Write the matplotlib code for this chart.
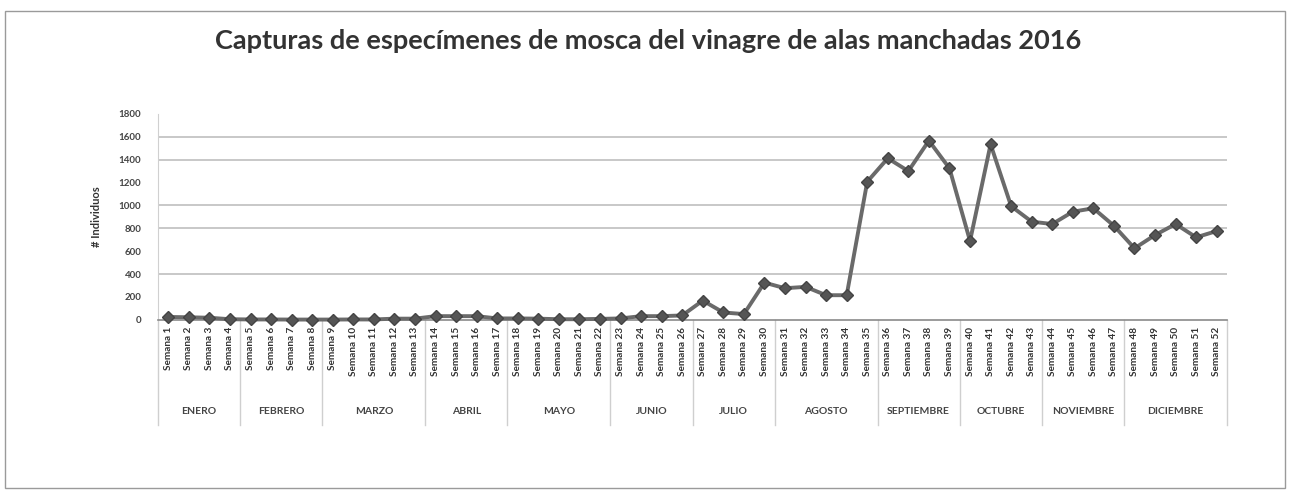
import matplotlib
matplotlib.use("Agg")
import matplotlib.pyplot as plt
import matplotlib.transforms as mtransforms
from matplotlib.patches import Rectangle

plt.rcParams['font.family'] = ['Lato', 'DejaVu Sans']

# ---- data ----
weeks = [f"Semana {i}" for i in range(1, 53)]
capturas = [25, 22, 18, 5, 3, 3, 2, 2, 2, 3, 3, 10, 10, 32, 32, 32, 12, 12, 10, 5,
            5, 8, 12, 32, 32, 38, 168, 64, 50, 325, 276, 288, 215, 215, 1207, 1412,
            1300, 1566, 1324, 689, 1534, 993, 858, 837, 945, 975, 822, 625, 741, 837,
            721, 776]
months = ["ENERO", "FEBRERO", "MARZO", "ABRIL", "MAYO", "JUNIO", "JULIO",
          "AGOSTO", "SEPTIEMBRE", "OCTUBRE", "NOVIEMBRE", "DICIEMBRE"]
weeks_per_month = [4, 4, 5, 4, 5, 4, 4, 5, 4, 4, 4, 5]
y_ticks = [0, 200, 400, 600, 800, 1000, 1200, 1400, 1600, 1800]
visible_grid = [400, 800, 1000, 1400, 1600]
title = "Capturas de especímenes de mosca del vinagre de alas manchadas 2016"
y_label = "# Individuos"

W, H = 1289, 491
fig = plt.figure(figsize=(W / 100, H / 100), dpi=100)
fig.patch.set_facecolor("white")

# chart border
fig.add_artist(Rectangle((5 / W, 3 / H), 1280 / W, 477 / H, transform=fig.transFigure,
                         fill=False, edgecolor="#9a9a9a", linewidth=1.0))

ax = fig.add_axes([158 / W, (H - 319.8) / H, (1227 - 158) / W, 205.9 / H])
x = list(range(len(weeks)))

for g in visible_grid:
    ax.axhline(g, color="#c4c4c4", linewidth=1.3, zorder=1)

ax.plot(x, capturas, color="#6a6a6a", linewidth=2.8, marker="D", markersize=6.5,
        markerfacecolor="#555555", markeredgecolor="#444444", zorder=3, clip_on=False)

ax.set_xlim(-0.5, len(weeks) - 0.5)
ax.set_ylim(0, 1800)
ax.set_yticks(y_ticks)
ax.set_yticklabels([str(v) for v in y_ticks], fontsize=7, color="#444444",
                   fontweight="bold")
ax.set_xticks(x)
ax.set_xticklabels(weeks, rotation=90, fontsize=7.2, color="#333333",
                   fontweight="bold")
ax.tick_params(axis="both", length=0)
ax.tick_params(axis="x", pad=5)
ax.tick_params(axis="y", pad=12)
for s in ["top", "right"]:
    ax.spines[s].set_visible(False)
ax.spines["left"].set_color("#d0d0d0")
ax.spines["bottom"].set_color("#8a8a8a")
ax.spines["bottom"].set_linewidth(1.2)

ax.set_ylabel(y_label, fontsize=8, fontweight="bold", color="#333333", labelpad=12)

fig.text(648 / W, (H - 41) / H, title, ha="center", va="center", fontsize=19.5,
         fontweight="bold", color="#333333")

# month (group) labels and separators
trans = mtransforms.blended_transform_factory(ax.transData, fig.transFigure)
y_top = (H - 319.8) / H
y_bot = (H - 425) / H
y_month = (H - 411) / H
start = -0.5
ax.plot([start, start], [y_top, y_bot], transform=trans, color="#cfcfcf",
        linewidth=1, clip_on=False)
for name, n in zip(months, weeks_per_month):
    end = start + n
    ax.text((start + end) / 2, y_month, name, transform=trans, ha="center",
            va="center", fontsize=7.5, color="#444444", fontweight="bold")
    ax.plot([end, end], [y_top, y_bot], transform=trans, color="#cfcfcf",
            linewidth=1, clip_on=False)
    start = end

fig.savefig("out.png", dpi=100, facecolor="white")
